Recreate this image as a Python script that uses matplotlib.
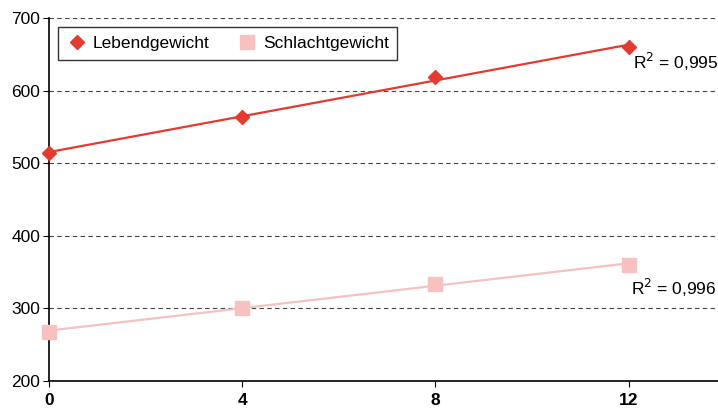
import numpy as np
import matplotlib.pyplot as plt

plt.rcParams['font.family'] = ['Liberation Sans', 'DejaVu Sans']

weeks = [0, 4, 8, 12]
lebend = [514, 564, 619, 660]
schlacht = [268, 301, 334, 360]
r2_labels = ["R$^2$ = 0,995", "R$^2$ = 0,996"]

red = "#e53a30"
pink = "#f6c1bf"

fig = plt.figure(figsize=(7.18, 4.09), dpi=100)
ax = fig.add_axes([0.068, 0.0685, 0.932, 0.8875])

x = np.array(weeks)
for vals, color, marker, ms, label in [
    (lebend, red, "D", 7.5, "Lebendgewicht"),
    (schlacht, pink, "s", 10, "Schlachtgewicht"),
]:
    m, b = np.polyfit(x, vals, 1)
    ax.plot(x, m * x + b, color=color, linewidth=1.6, zorder=2)
    ax.plot(x, vals, linestyle="none", marker=marker, markersize=ms,
            color=color, label=label, zorder=3, clip_on=False)

ax.text(12.1, 639, r2_labels[0], fontsize=12.5, va="center", ha="left")
ax.text(12.05, 328, r2_labels[1], fontsize=12.5, va="center", ha="left")

ax.set_xlim(0, 13.85)
ax.set_ylim(200, 700)
ax.set_xticks(weeks)
ax.set_yticks([200, 300, 400, 500, 600, 700])
for yv in [300, 400, 500, 600, 700]:
    ax.axhline(yv, color="#444444", linestyle=(0, (4, 3)), linewidth=0.8, zorder=1)

ax.spines["top"].set_visible(False)
ax.spines["right"].set_visible(False)
ax.spines["left"].set_linewidth(1.2)
ax.spines["bottom"].set_linewidth(1.2)
ax.tick_params(axis="y", direction="out", length=4, labelsize=12.5, pad=2)
ax.tick_params(axis="x", direction="out", length=4, labelsize=12.5, pad=5)
for lbl in ax.get_xticklabels():
    lbl.set_fontweight("bold")

leg = ax.legend(loc="upper left", ncol=2, frameon=True, fancybox=False,
                edgecolor="black", fontsize=12.5, handletextpad=0.3,
                columnspacing=1.6, borderpad=0.5, handlelength=1.2,
                bbox_to_anchor=(0.0, 0.999))
leg.get_frame().set_linewidth(1.0)

fig.savefig("out.png", dpi=100)
